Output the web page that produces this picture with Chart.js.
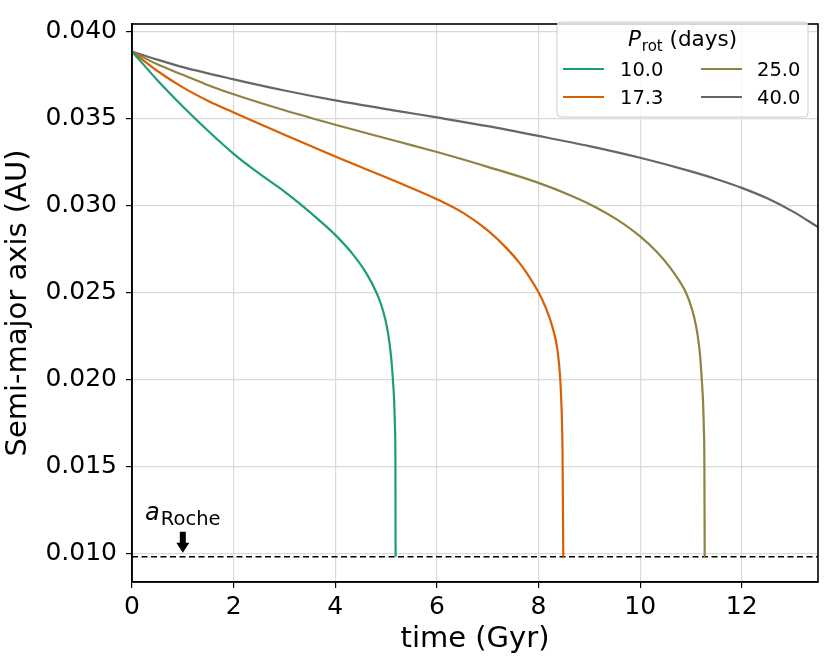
<!DOCTYPE html>
<html>
<head>
<meta charset="utf-8">
<script src="https://cdn.jsdelivr.net/npm/chart.js@4"></script>
<style>
html,body{margin:0;padding:0;background:#fff;}
#wrap{width:830px;height:670px;position:relative;}
</style>
</head>
<body>
<div id="wrap"><canvas id="c" width="830" height="670"></canvas></div>
<script>
// ---- data ----
const periods = ['10.0', '17.3', '25.0', '40.0'];
const colors = ['#1b9e77', '#d95f02', '#8f8340', '#666666'];

const t10 = [0, 0.5, 1, 1.5, 2, 2.5, 3, 3.33, 3.67, 4, 4.348, 4.61, 4.808, 4.905, 4.983, 5.043, 5.10, 5.134, 5.16, 5.175, 5.184, 5.187];
const a10 = [0.03884, 0.03719, 0.03568, 0.03427, 0.03296, 0.03183, 0.03079, 0.03003, 0.02918, 0.0283, 0.02718, 0.0261, 0.0250, 0.02427, 0.02347, 0.02258, 0.02126, 0.0200, 0.0187, 0.0172, 0.0152, 0.0098];

const t17 = [0, 0.5, 1, 1.5, 2, 3, 4, 5.27, 6, 6.525, 7, 7.38, 7.64, 7.84, 8.0, 8.13, 8.277, 8.375, 8.428, 8.454, 8.473, 8.487];
const a17 = [0.03884, 0.03772, 0.03678, 0.0360, 0.03534, 0.03405, 0.0328, 0.03128, 0.03035, 0.02955, 0.02856, 0.02751, 0.02663, 0.02579, 0.0250, 0.0242, 0.02297, 0.02165, 0.0200, 0.01829, 0.01565, 0.0098];

const t25 = [0, 0.5, 1, 1.5, 2, 3, 4, 5.27, 6, 7, 8, 8.62, 9.15, 9.54, 10, 10.33, 10.59, 10.79, 10.898, 10.99, 11.065, 11.125, 11.18, 11.212, 11.238, 11.253, 11.264, 11.27];
const a25 = [0.03884, 0.0381, 0.0375, 0.0369, 0.03638, 0.03546, 0.03463, 0.03364, 0.03306, 0.03221, 0.03129, 0.03058, 0.02985, 0.02919, 0.02821, 0.02731, 0.02642, 0.02557, 0.0250, 0.02431, 0.02354, 0.02265, 0.02137, 0.0200, 0.0187, 0.0172, 0.0152, 0.0098];

const t40 = [0, 0.5, 1, 2, 3, 4, 5.27, 6, 7, 8, 9, 10, 11, 11.57, 12, 12.5, 13, 13.5];
const a40 = [0.03884, 0.03837, 0.03794, 0.03724, 0.0366, 0.03603, 0.0354, 0.03505, 0.03455, 0.03399, 0.0334, 0.03273, 0.03195, 0.03144, 0.0310, 0.0304, 0.02965, 0.02875];

const aRoche = 0.0098;
const arrowTime = 1;

const xTicks = [0, 2, 4, 6, 8, 10, 12];
const yTicks = [0.010, 0.015, 0.020, 0.025, 0.030, 0.035, 0.040];
const xRange = [0, 13.5];
const yRange = [0.00835, 0.04042];

// ---- build ----
const times = [t10, t17, t25, t40];
const semis = [a10, a17, a25, a40];
const FONT = 'DejaVu Sans';

const datasets = periods.map((p, i) => ({
  label: p,
  data: times[i].map((t, j) => ({x: t, y: semis[i][j]})),
  borderColor: colors[i],
  borderWidth: 2.2,
  pointRadius: 0,
  fill: false,
  cubicInterpolationMode: 'monotone'
}));
datasets.push({
  label: 'roche',
  data: [{x: xRange[0], y: aRoche}, {x: xRange[1], y: aRoche}],
  borderColor: '#000',
  borderWidth: 1.5,
  borderDash: [6, 3.5],
  pointRadius: 0,
  fill: false
});

const framePlugin = {
  id: 'frame',
  afterDatasetsDraw(chart) {
    const {ctx, chartArea: a, scales} = chart;
    ctx.save();
    // frame
    ctx.strokeStyle = '#000';
    ctx.lineWidth = 1.6;
    ctx.strokeRect(a.left, a.top, a.right - a.left, a.bottom - a.top);

    // Roche annotation
    const ax = scales.x.getPixelForValue(arrowTime);
    const tip = scales.y.getPixelForValue(aRoche) - 4;
    ctx.fillStyle = '#000';
    ctx.beginPath();
    ctx.moveTo(ax - 3, tip - 21);
    ctx.lineTo(ax + 3, tip - 21);
    ctx.lineTo(ax + 3, tip - 10);
    ctx.lineTo(ax + 6.5, tip - 10);
    ctx.lineTo(ax, tip);
    ctx.lineTo(ax - 6.5, tip - 10);
    ctx.lineTo(ax - 3, tip - 10);
    ctx.closePath();
    ctx.fill();
    ctx.textBaseline = 'alphabetic';
    ctx.textAlign = 'left';
    ctx.font = 'italic 24px ' + FONT;
    const wA = ctx.measureText('a').width;
    ctx.font = '19.5px ' + FONT;
    const wR = ctx.measureText('Roche').width;
    const tx = ax - (wA + 1 + wR) / 2;
    ctx.font = 'italic 24px ' + FONT;
    ctx.fillText('a', tx, tip - 33);
    ctx.font = '19.5px ' + FONT;
    ctx.fillText('Roche', tx + wA + 1, tip - 28);

    // legend
    const L = 557, T = 22, R = 808, B = 117;
    ctx.globalAlpha = 0.8;
    ctx.fillStyle = '#fff';
    ctx.beginPath();
    ctx.roundRect(L, T, R - L, B - T, 4);
    ctx.fill();
    ctx.globalAlpha = 1;
    ctx.strokeStyle = '#cccccc';
    ctx.lineWidth = 1;
    ctx.stroke();

    ctx.fillStyle = '#000';
    ctx.font = 'italic 21.5px ' + FONT;
    const wP = ctx.measureText('P').width;
    ctx.font = '15px ' + FONT;
    const wrot = ctx.measureText('rot').width;
    ctx.font = '21.5px ' + FONT;
    const wd = ctx.measureText(' (days)').width;
    let x0 = (L + R) / 2 - (wP + 1 + wrot + wd) / 2;
    ctx.font = 'italic 21.5px ' + FONT;
    ctx.fillText('P', x0, 46);
    ctx.font = '15px ' + FONT;
    ctx.fillText('rot', x0 + wP + 1, 50.5);
    ctx.font = '21.5px ' + FONT;
    ctx.fillText(' (days)', x0 + wP + 1 + wrot, 46);

    const cols = [[563, 620], [701, 757]];
    const rows = [69, 97];
    for (let i = 0; i < periods.length; i++) {
      const c = cols[Math.floor(i / 2)], r = rows[i % 2];
      ctx.strokeStyle = chart.data.datasets[i].borderColor;
      ctx.lineWidth = 2.2;
      ctx.beginPath();
      ctx.moveTo(c[0], r);
      ctx.lineTo(c[0] + 41, r);
      ctx.stroke();
      ctx.fillStyle = '#000';
      ctx.font = '19.5px ' + FONT;
      ctx.fillText(chart.data.datasets[i].label, c[1], r + 7);
    }
    ctx.restore();
  }
};

new Chart(document.getElementById('c'), {
  type: 'line',
  data: {datasets},
  options: {
    responsive: false,
    devicePixelRatio: 1,
    animation: false,
    layout: {padding: {top: 11, right: 12, left: 0, bottom: 0}},
    plugins: {legend: {display: false}, tooltip: {enabled: false}},
    scales: {
      x: {
        type: 'linear',
        min: xRange[0], max: xRange[1],
        afterBuildTicks: s => { s.ticks = xTicks.map(v => ({value: v})); },
        afterFit: s => { s.height = 88; },
        grid: {color: '#dadada', lineWidth: 1.2, tickColor: '#000', tickLength: 6, tickWidth: 1.2},
        border: {color: '#000', width: 1.6},
        ticks: {color: '#000', font: {family: FONT, size: 25}, padding: 4, maxRotation: 0,
                callback: v => String(v)},
        title: {display: true, text: 'time (Gyr)', color: '#000', font: {family: FONT, size: 29}, padding: {top: 0, bottom: 13}}
      },
      y: {
        type: 'linear',
        min: yRange[0], max: yRange[1],
        afterBuildTicks: s => { s.ticks = yTicks.map(v => ({value: v})); },
        afterFit: s => { s.width = 132; },
        grid: {color: '#dadada', lineWidth: 1.2, tickColor: '#000', tickLength: 6, tickWidth: 1.2},
        border: {color: '#000', width: 1.6},
        ticks: {color: '#000', font: {family: FONT, size: 25}, padding: 9,
                callback: v => Number(v).toFixed(3)},
        title: {display: true, text: 'Semi-major axis (AU)', color: '#000', font: {family: FONT, size: 29}, padding: {top: 1, bottom: 0}}
      }
    }
  },
  plugins: [framePlugin]
});
</script>
</body>
</html>
